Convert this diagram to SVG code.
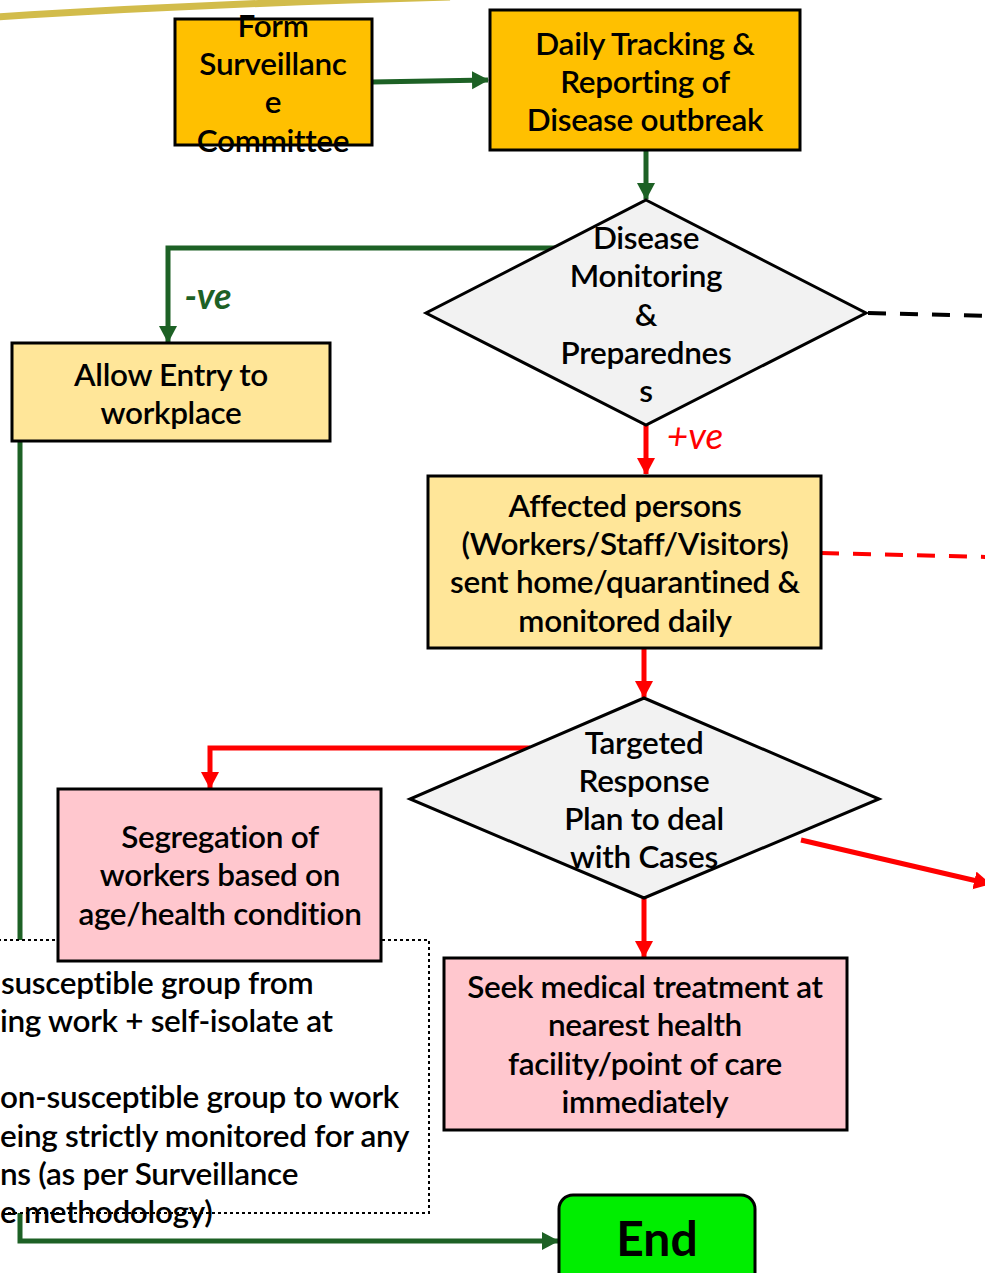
<svg xmlns="http://www.w3.org/2000/svg" width="985" height="1273" viewBox="0 0 985 1273">
<style>
.t{font-family:Lato,"Liberation Sans",sans-serif;font-size:31.5px;font-weight:600;fill:#000;text-anchor:middle;letter-spacing:-0.3px}
.tl{font-family:Lato,"Liberation Sans",sans-serif;font-size:31.5px;font-weight:600;fill:#000;text-anchor:start;letter-spacing:-0.3px}
.box{stroke:#000;stroke-width:3}
.g{stroke:#1D6125;stroke-width:5;fill:none}
.r{stroke:#FF0000;stroke-width:5;fill:none}
</style>
<defs>
<marker id="ag" markerUnits="userSpaceOnUse" markerWidth="20" markerHeight="20" refX="16" refY="9" orient="auto"><path d="M0,0 L17,9 L0,18 Z" fill="#1D6125"/></marker>
<marker id="ar" markerUnits="userSpaceOnUse" markerWidth="20" markerHeight="20" refX="16" refY="9" orient="auto"><path d="M0,0 L17,9 L0,18 Z" fill="#FF0000"/></marker>
</defs>
<path d="M-5,17 Q200,4 450,-3" stroke="#D2BC4B" stroke-width="7" fill="none"/>
<g id="connectors">
<path class="g" d="M372,82 L488,80" marker-end="url(#ag)"/>
<path class="g" d="M646,150 L646,199" marker-end="url(#ag)"/>
<path class="g" d="M556,248 L168,248 L168,342" marker-end="url(#ag)"/>
<path class="g" d="M20,441 L20,1241 L558,1241" marker-end="url(#ag)"/>
<path class="r" d="M646,425 L646,474" marker-end="url(#ar)"/>
<path class="r" d="M644,648 L644,697" marker-end="url(#ar)"/>
<path class="r" d="M530,748 L210,748 L210,788" marker-end="url(#ar)"/>
<path class="r" d="M644,898 L644,957" marker-end="url(#ar)"/>
<path class="r" d="M801,840 L990,884" marker-end="url(#ar)"/>
<path d="M868,313 L990,316" stroke="#000" stroke-width="4" stroke-dasharray="18,14" fill="none"/>
<path d="M821,553 L990,557" stroke="#FF0000" stroke-width="4" stroke-dasharray="18,14" fill="none"/>
<text x="208" y="309" style="font-family:Lato,'Liberation Sans',sans-serif;font-size:36px;font-weight:bold;font-style:italic;fill:#1D6125;text-anchor:middle">-ve</text>
<text x="695" y="449" style="font-family:Lato,'Liberation Sans',sans-serif;font-size:37px;font-style:italic;fill:#FF0000;text-anchor:middle">+ve</text>
</g>
<g id="n-form">
<rect class="box" x="175" y="19" width="197" height="126" fill="#FFC000"/>
<text class="t" x="273" y="37">Form</text>
<text class="t" x="273" y="75">Surveillanc</text>
<text class="t" x="273" y="113">e</text>
<text class="t" x="273" y="152">Committee</text>
</g>
<g id="n-daily">
<rect class="box" x="490" y="10" width="310" height="140" fill="#FFC000"/>
<text class="t" x="645" y="55">Daily Tracking &amp;</text>
<text class="t" x="645" y="93">Reporting of</text>
<text class="t" x="645" y="131">Disease outbreak</text>
</g>
<g id="n-monitor">
<polygon class="box" points="646,200 866,313 646,425 426,313" fill="#F2F2F2"/>
<text class="t" x="646" y="249">Disease</text>
<text class="t" x="646" y="287">Monitoring</text>
<text class="t" x="646" y="326">&amp;</text>
<text class="t" x="646" y="364">Preparednes</text>
<text class="t" x="646" y="402">s</text>
</g>
<g id="n-allow">
<rect class="box" x="12" y="343" width="318" height="98" fill="#FFE699"/>
<text class="t" x="171" y="386">Allow Entry to</text>
<text class="t" x="171" y="424">workplace</text>
</g>
<g id="n-affected">
<rect class="box" x="428" y="476" width="393" height="172" fill="#FFE699"/>
<text class="t" x="625" y="517">Affected persons</text>
<text class="t" x="625" y="555">(Workers/Staff/Visitors)</text>
<text class="t" x="625" y="593">sent home/quarantined &amp;</text>
<text class="t" x="625" y="632">monitored daily</text>
</g>
<g id="n-targeted">
<polygon class="box" points="644,698 879,799 644,898 410,799" fill="#F2F2F2"/>
<text class="t" x="644" y="754">Targeted</text>
<text class="t" x="644" y="792">Response</text>
<text class="t" x="644" y="830">Plan to deal</text>
<text class="t" x="644" y="868">with Cases</text>
</g>
<g id="n-note">
<rect x="-20" y="940" width="449" height="273" fill="#FFFFFF" stroke="#000" stroke-width="2" stroke-dasharray="3,3"/>
<text class="tl" x="1" y="994">susceptible group from</text>
<text class="tl" x="0" y="1032">ing work + self-isolate at</text>
<text class="tl" x="0" y="1108">on-susceptible group to work</text>
<text class="tl" x="0" y="1147">eing strictly monitored for any</text>
<text class="tl" x="0" y="1185">ns (as per Surveillance</text>
<text class="tl" x="0" y="1223">e methodology)</text>
</g>
<g id="n-segregation">
<rect class="box" x="58" y="789" width="323" height="172" fill="#FFC7CE"/>
<text class="t" x="220" y="848">Segregation of</text>
<text class="t" x="220" y="886">workers based on</text>
<text class="t" x="220" y="925">age/health condition</text>
</g>
<g id="n-seek">
<rect class="box" x="444" y="958" width="403" height="172" fill="#FFC7CE"/>
<text class="t" x="645" y="998">Seek medical treatment at</text>
<text class="t" x="645" y="1036">nearest health</text>
<text class="t" x="645" y="1075">facility/point of care</text>
<text class="t" x="645" y="1113">immediately</text>
</g>
<g id="n-end">
<rect class="box" x="559" y="1195" width="196" height="100" rx="14" fill="#00EE00"/>
<text x="657" y="1256" style="font-family:Lato,'Liberation Sans',sans-serif;font-size:48px;font-weight:bold;fill:#000;text-anchor:middle">End</text>
</g>
</svg>
